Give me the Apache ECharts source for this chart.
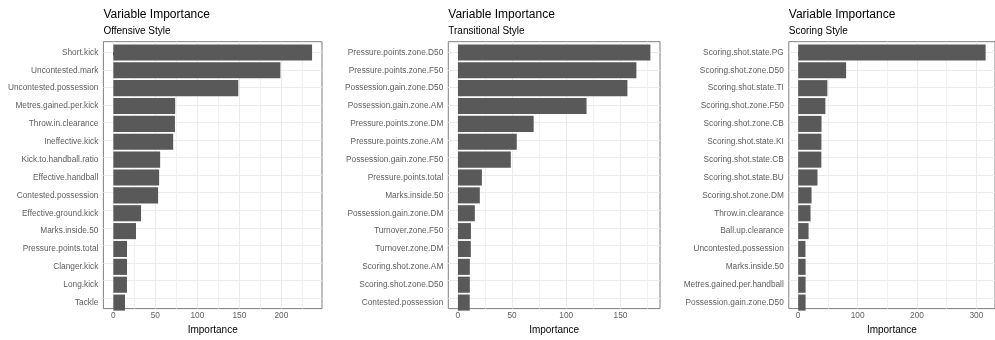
<!DOCTYPE html>
<html>
<head>
<meta charset="utf-8">
<script src="https://cdn.jsdelivr.net/npm/echarts@6/dist/echarts.min.js"></script>
<style>
  html, body { margin: 0; padding: 0; background: #fff; }
  #chart { width: 995px; height: 340px; }
</style>
</head>
<body>
<div id="chart"></div>
<script>
// data
const offensiveNames = ["Short.kick", "Uncontested.mark", "Uncontested.possession", "Metres.gained.per.kick",
  "Throw.in.clearance", "Ineffective.kick", "Kick.to.handball.ratio", "Effective.handball",
  "Contested.possession", "Effective.ground.kick", "Marks.inside.50", "Pressure.points.total",
  "Clanger.kick", "Long.kick", "Tackle"];
const offensiveValues = [236.5, 198.8, 148.7, 73.6, 73.3, 71.2, 55.7, 54.5, 53.3, 33, 27, 16.3, 16.3, 16.2, 13.9];

const transitionalNames = ["Pressure.points.zone.D50", "Pressure.points.zone.F50", "Possession.gain.zone.D50",
  "Possession.gain.zone.AM", "Pressure.points.zone.DM", "Pressure.points.zone.AM", "Possession.gain.zone.F50",
  "Pressure.points.total", "Marks.inside.50", "Possession.gain.zone.DM", "Turnover.zone.F50",
  "Turnover.zone.DM", "Scoring.shot.zone.AM", "Scoring.shot.zone.D50", "Contested.possession"];
const transitionalValues = [177.6, 164.7, 156.4, 118.7, 69.9, 54.3, 48.8, 22.1, 20.2, 15.6, 12, 11.9, 11, 11, 10.9];

const scoringNames = ["Scoring.shot.state.PG", "Scoring.shot.zone.D50", "Scoring.shot.state.TI",
  "Scoring.shot.zone.F50", "Scoring.shot.zone.CB", "Scoring.shot.state.KI", "Scoring.shot.state.CB",
  "Scoring.shot.state.BU", "Scoring.shot.zone.DM", "Throw.in.clearance", "Ball.up.clearance",
  "Uncontested.possession", "Marks.inside.50", "Metres.gained.per.handball", "Possession.gain.zone.D50"];
const scoringValues = [315.5, 80.7, 49.1, 45.8, 39.3, 39.1, 39, 32.5, 22.5, 20.8, 17.5, 12.3, 12.5, 12.5, 12.5];

const offensiveTicks = [0, 50, 100, 150, 200];
const transitionalTicks = [0, 50, 100, 150];
const scoringTicks = [0, 100, 200, 300];

const panels = [
  { sub: "Offensive Style", names: offensiveNames, values: offensiveValues, ticks: offensiveTicks, left: 103.4, width: 218.6 },
  { sub: "Transitional Style", names: transitionalNames, values: transitionalValues, ticks: transitionalTicks, left: 448.3, width: 211.7 },
  { sub: "Scoring Style", names: scoringNames, values: scoringValues, ticks: scoringTicks, left: 788.8, width: 209 }
];

const panelTop = 41.7, panelHeight = 271.6;
const gridColor = "#ebebeb";
const labelColor = "#5e5e5e";

const option = {
  animation: false,
  textStyle: { fontFamily: "Liberation Sans, Arial, sans-serif" },
  title: [], grid: [], xAxis: [], yAxis: [], series: []
};

panels.forEach((p, i) => {
  const n = p.names.length;
  const row = panelHeight / (n + 0.2); // ggplot discrete expansion of 0.6 on each side
  const M = Math.max(...p.values);
  const xmin = -0.05 * M, xmax = 1.05 * M;
  const step = p.ticks[1] - p.ticks[0];
  const rowIdx = p.names.map((_, k) => k);

  option.title.push({
    text: "Variable Importance", subtext: p.sub,
    left: p.left, top: 9, padding: 0, itemGap: 5.5,
    textStyle: { fontSize: 12, fontWeight: "normal", color: "#000" },
    subtextStyle: { fontSize: 10, color: "#000" }
  });

  // panel with border, x axis and grid lines
  option.grid.push({
    left: p.left, width: p.width, top: panelTop, height: panelHeight,
    show: true, borderColor: "#7f7f7f", borderWidth: 1, backgroundColor: "transparent"
  });
  // bar band area
  option.grid.push({
    left: p.left, width: p.width, top: panelTop + 0.1 * row, height: n * row
  });

  option.xAxis.push({
    gridIndex: 2 * i, type: "value", min: xmin, max: xmax,
    minInterval: step, maxInterval: step,
    axisLine: { show: false },
    axisTick: { length: 3, lineStyle: { color: "#333" }, customValues: p.ticks },
    axisLabel: { customValues: p.ticks, fontSize: 8.3, color: labelColor, margin: 3.5 },
    splitLine: { show: true, lineStyle: { color: gridColor, width: 1 } },
    minorTick: { show: false, splitNumber: 2 },
    minorSplitLine: { show: true, lineStyle: { color: "#f0f0f0", width: 1 } },
    name: "Importance", nameLocation: "middle", nameGap: 14.5,
    nameTextStyle: { fontSize: 10, color: "#000" }
  });
  option.yAxis.push({
    gridIndex: 2 * i, type: "value", min: -0.6, max: n - 0.4, inverse: true,
    axisLine: { show: false },
    axisTick: { show: false, customValues: rowIdx },
    axisLabel: { show: false, customValues: rowIdx },
    splitLine: { show: true, lineStyle: { color: gridColor, width: 1 } }
  });

  option.xAxis.push({
    gridIndex: 2 * i + 1, type: "value", min: xmin, max: xmax, show: false,
    splitLine: { show: false }
  });
  option.yAxis.push({
    gridIndex: 2 * i + 1, type: "category", data: p.names, inverse: true,
    axisLine: { show: false },
    axisTick: { alignWithLabel: true, length: 3, lineStyle: { color: "#333" } },
    axisLabel: { fontSize: 8.3, color: labelColor, margin: 5 },
    splitLine: { show: false }
  });

  option.series.push({
    type: "bar", xAxisIndex: 2 * i + 1, yAxisIndex: 2 * i + 1,
    data: p.values, barWidth: "90%", silent: true,
    itemStyle: { color: "#595959" }
  });
});

const chart = echarts.init(document.getElementById("chart"));
chart.setOption(option);
</script>
</body>
</html>
